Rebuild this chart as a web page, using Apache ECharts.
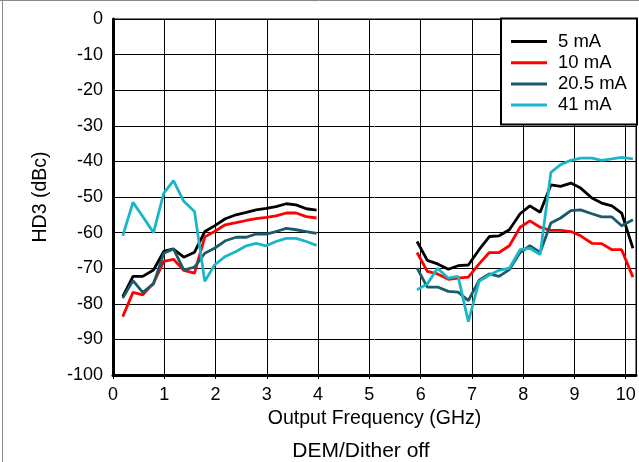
<!DOCTYPE html>
<html>
<head>
<meta charset="utf-8">
<script src="https://cdn.jsdelivr.net/npm/echarts@6/dist/echarts.min.js"></script>
<style>
html,body{margin:0;padding:0;background:#fff;}
#chart{width:639px;height:462px;}
</style>
</head>
<body>
<div id="chart"></div>
<script>
const seriesNames = ['5 mA', '10 mA', '20.5 mA', '41 mA'];
const seriesColors = ['#000000', '#ff0000', '#1a5b6b', '#1ab6c8'];

const freqLow = [0.19,0.39,0.58,0.79,0.99,1.18,1.38,1.59,1.79,1.98,2.19,2.40,2.60,2.79,2.99,3.18,3.38,3.57,3.77,3.97];
const freqHigh = [5.93,6.13,6.33,6.54,6.73,6.93,7.14,7.34,7.53,7.73,7.94,8.13,8.33,8.54,8.73,8.93,9.12,9.34,9.53,9.73,9.92,10.14];

const hd3_5mA_low = [-78,-72.3,-72.3,-70.5,-65.3,-64.6,-66.9,-65.5,-59.7,-58.1,-56.1,-55,-54.3,-53.6,-53.2,-52.7,-51.9,-52.2,-53.3,-53.7];
const hd3_10mA_low = [-83.6,-76.8,-77.5,-74.2,-68.1,-67.5,-70.6,-71.4,-61.2,-59.7,-57.8,-57.2,-56.6,-56.1,-55.7,-55.3,-54.5,-54.5,-55.5,-55.9];
const hd3_20mA_low = [-78.4,-73.5,-76.8,-74.4,-65.8,-64.6,-70.5,-69.7,-65.8,-64.4,-62.3,-61.3,-61.3,-60.4,-60.4,-59.7,-58.8,-59.2,-59.7,-60.2];
const hd3_41mA_low = [-60.9,-51.5,-55.5,-60,-48.9,-45.4,-51.2,-54.1,-73.7,-69.1,-66.7,-65.3,-63.7,-63,-63.7,-62.5,-61.6,-61.6,-62.5,-63.6];

const hd3_5mA_high = [-62.5,-67.8,-68.8,-70.3,-69.3,-69.1,-64.8,-61.1,-60.9,-59.2,-54.7,-52.5,-54.3,-46.6,-47,-46.1,-47.5,-50.3,-51.7,-52.5,-54.5,-64.4];
const hd3_10mA_high = [-65.6,-70.9,-71.6,-73.1,-72.8,-72.5,-68.8,-65.6,-65.6,-63.7,-58.5,-56.7,-58.5,-59.4,-59.4,-59.7,-60.9,-63,-63.1,-64.8,-64.8,-72.5];
const hd3_20mA_high = [-70,-75.3,-75.3,-76.5,-76.7,-79.1,-73.4,-71.6,-72.3,-70.4,-65.6,-63.7,-65.6,-57.3,-55.9,-53.8,-53.6,-54.7,-55.6,-55.6,-58.1,-56.4];
const hd3_41mA_high = [-76.1,-74.4,-70,-72.8,-72.3,-85,-73.7,-71.9,-70.6,-70,-64.8,-64.4,-66.2,-43.1,-40.9,-39.7,-39.1,-39.1,-39.7,-39.3,-38.9,-39.3];

const lowSets = [hd3_5mA_low, hd3_10mA_low, hd3_20mA_low, hd3_41mA_low];
const highSets = [hd3_5mA_high, hd3_10mA_high, hd3_20mA_high, hd3_41mA_high];

function buildData(low, high) {
  const d = freqLow.map((f, i) => [f, low[i]]);
  d.push([5, null]);
  freqHigh.forEach((f, i) => d.push([f, high[i]]));
  return d;
}

const FONT = '"Liberation Sans", Arial, sans-serif';
const chart = echarts.init(document.getElementById('chart'), null, {renderer: 'canvas'});

chart.setOption({
  animation: false,
  backgroundColor: '#ffffff',
  grid: {left: 113, top: 19, width: 523, height: 356, show: true, borderColor: '#000', borderWidth: 1, containLabel: false},
  legend: {
    left: 511, top: 32, orient: 'vertical', padding: 0, z: 20,
    itemWidth: 36, itemHeight: 3, itemGap: 2.2, icon: 'rect',
    textStyle: {fontFamily: FONT, fontSize: 18.5, color: '#000', lineHeight: 17, padding: [0, 0, 0, 6]},
    data: seriesNames
  },
  xAxis: {
    type: 'value', min: 0, max: 10.2, interval: 1,
    name: 'Output Frequency (GHz)', nameLocation: 'middle', nameGap: 32,
    nameTextStyle: {fontFamily: FONT, fontSize: 19.5, color: '#000'},
    axisLine: {show: true, onZero: false, lineStyle: {color: '#000', width: 3}},
    axisTick: {show: true, inside: false, length: 4, lineStyle: {color: '#000'}},
    axisLabel: {fontFamily: FONT, fontSize: 18, color: '#000', margin: 11, showMaxLabel: false},
    splitLine: {show: true, lineStyle: {color: '#000', width: 1}}
  },
  yAxis: {
    type: 'value', min: -100, max: 0, interval: 10,
    name: 'HD3 (dBc)', nameLocation: 'middle', nameGap: 62, nameRotate: 90,
    nameTextStyle: {fontFamily: FONT, fontSize: 19.5, color: '#000'},
    axisLine: {show: true, onZero: false, lineStyle: {color: '#000', width: 3}},
    axisTick: {show: false},
    axisLabel: {fontFamily: FONT, fontSize: 18, color: '#000', margin: 10},
    splitLine: {show: true, lineStyle: {color: '#000', width: 1}}
  },
  graphic: [
    {type: 'rect', z: 10, shape: {x: 501, y: 18.5, width: 136, height: 106}, style: {fill: '#fff', stroke: '#000', lineWidth: 2}},
    {type: 'text', z: 10, style: {text: 'DEM/Dither off', x: 361, y: 451, textAlign: 'center', textVerticalAlign: 'middle', font: '21px ' + FONT, fill: '#000'}},
    {type: 'line', shape: {x1: 2.5, y1: 0, x2: 2.5, y2: 462}, style: {stroke: '#888', lineWidth: 1}},
    {type: 'line', shape: {x1: 0, y1: 0.5, x2: 639, y2: 0.5}, style: {stroke: '#888', lineWidth: 1}}
  ],
  series: seriesNames.map((n, k) => ({
    name: n, type: 'line', symbol: 'none', connectNulls: false,
    lineStyle: {color: seriesColors[k], width: 2.8},
    itemStyle: {color: seriesColors[k]},
    data: buildData(lowSets[k], highSets[k])
  }))
});
</script>
</body>
</html>
